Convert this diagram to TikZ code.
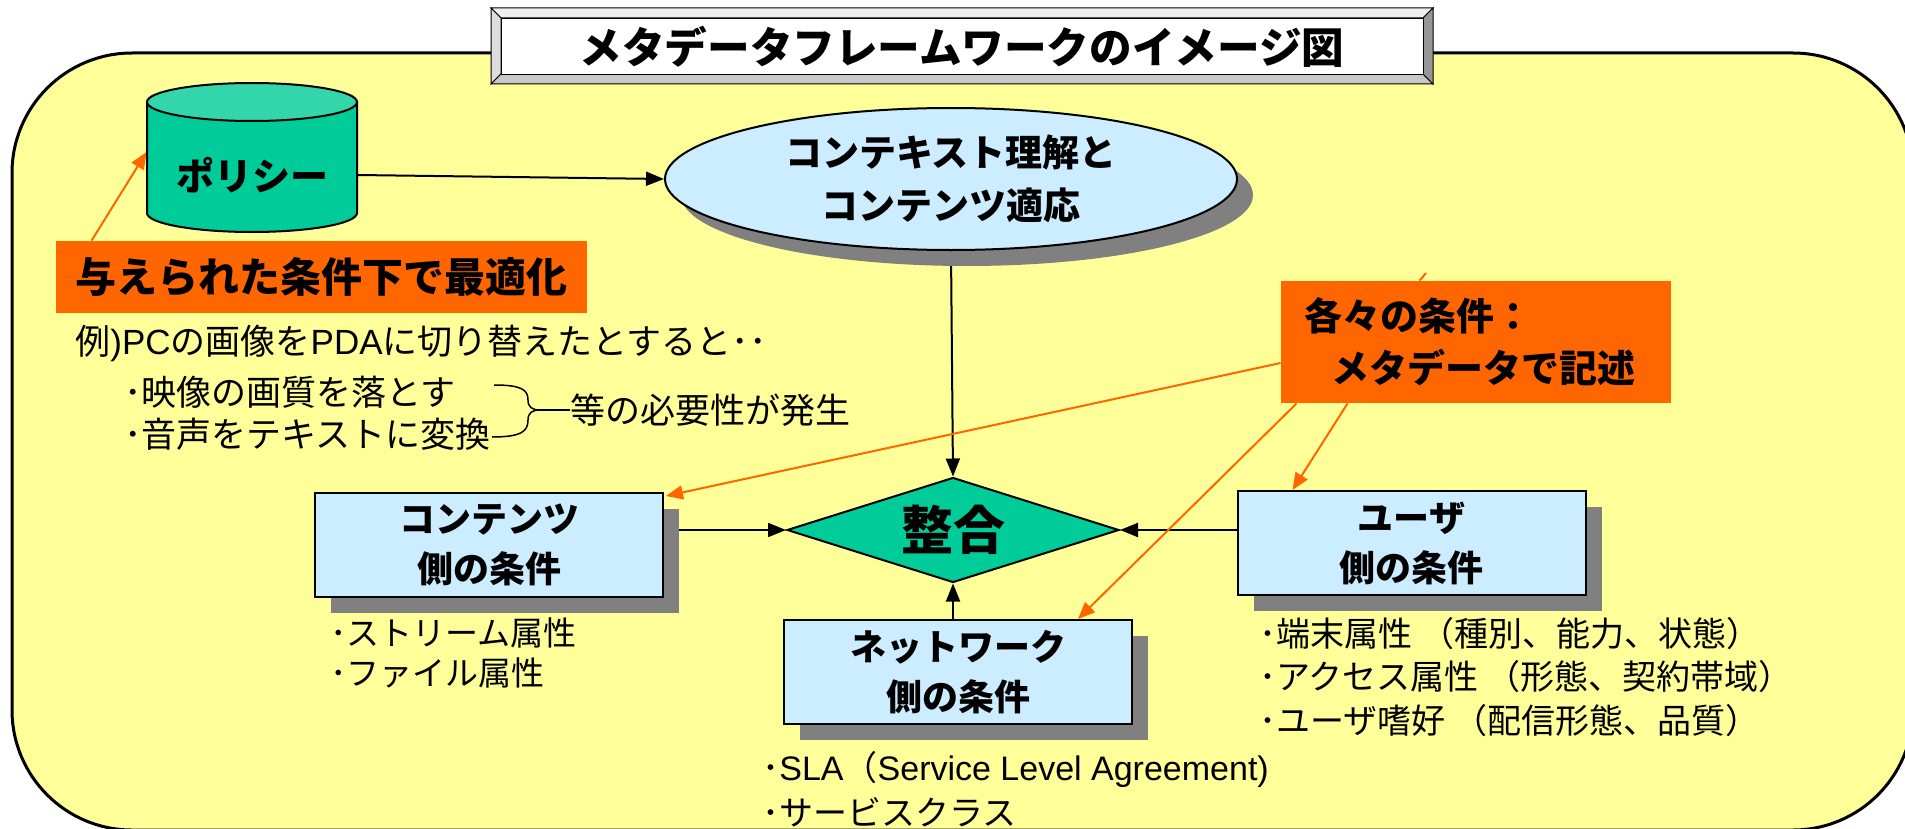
\documentclass[tikz,border=0pt]{standalone}
\usepackage{fontspec}
\setmainfont{Noto Sans CJK JP}
\newfontfamily\lat{Liberation Sans}
\usetikzlibrary{shapes.geometric,shadows,arrows.meta,calc}
\definecolor{yel}{HTML}{FFFF99}
\definecolor{org}{HTML}{FF6600}
\definecolor{lblue}{HTML}{CCECFF}
\definecolor{tealb}{HTML}{00CC99}
\definecolor{tealtop}{HTML}{33D6AA}
\definecolor{shd}{HTML}{808080}
\definecolor{bvtop}{HTML}{EEEEEE}
\definecolor{bvleft}{HTML}{DDDDDD}
\definecolor{bvbot}{HTML}{C8C8C8}
\definecolor{bvright}{HTML}{969696}
\pgfdeclarelayer{back}
\pgfdeclarelayer{edges}
\pgfsetlayers{back,edges,main}
\tikzset{
  myshadow/.style={drop shadow={shadow xshift=8pt,shadow yshift=-8pt,fill=shd,opacity=1}},
  condbox/.style={draw,line width=1pt,fill=lblue,minimum width=174pt,minimum height=52pt,inner sep=0pt,align=center,
    font=\fontsize{18pt}{25pt}\selectfont\bfseries,myshadow},
  bul/.style={anchor=west,align=left,inner sep=0pt,font=\fontsize{17pt}{21.75pt}\selectfont},
  extext/.style={anchor=west,inner sep=0pt,font=\fontsize{17.5pt}{21pt}\selectfont},
  blk/.style={draw=black,line width=1pt,-{Triangle[length=9pt,width=7pt]}},
  oarr/.style={draw=org,line width=1pt,-{Triangle[length=8.5pt,width=7pt]}},
  bevel/.style={draw=black,line width=0.5pt},
}
\begin{document}
\begin{tikzpicture}[x=0.5pt,y=-0.5pt]
\useasboundingbox (0,0) rectangle (1905,829);
\begin{pgfonlayer}{back}
\draw[line width=1.5pt,fill=yel,rounded corners=60pt] (12,53) rectangle (1913,830);
\end{pgfonlayer}

% title
\filldraw[bevel,fill=bvtop] (491,8) -- (1433,8) -- (1423,18) -- (501,18) -- cycle;
\filldraw[bevel,fill=bvleft] (491,8) -- (501,18) -- (501,74) -- (491,84) -- cycle;
\filldraw[bevel,fill=bvbot] (491,84) -- (501,74) -- (1423,74) -- (1433,84) -- cycle;
\filldraw[bevel,fill=bvright] (1433,8) -- (1423,18) -- (1423,74) -- (1433,84) -- cycle;
\node[draw,line width=0.5pt,fill=white,minimum width=461pt,minimum height=28pt,inner sep=0pt,
  font=\fontsize{21.3pt}{26pt}\selectfont\bfseries] (ttl) at (962,47) {メタデータフレームワークのイメージ図};

% policy cylinder
\filldraw[draw=black,line width=1pt,fill=tealb] (147,102) -- (147,213)
  arc[start angle=180,end angle=360,x radius=52.5pt,y radius=9.5pt] -- (357,102) -- cycle;
\filldraw[draw=black,line width=1pt,fill=tealtop] (252,102) ellipse [x radius=52.5pt,y radius=9.5pt];
\node[inner sep=0pt,minimum width=105pt,font=\fontsize{19pt}{22pt}\selectfont\bfseries] (pol) at (252,175) {ポリシー};

% context ellipse
\node[ellipse,draw,line width=1pt,fill=lblue,minimum width=286pt,minimum height=71pt,inner sep=0pt,align=center,
  font=\fontsize{18.5pt}{26.5pt}\selectfont\bfseries,myshadow] (ctx) at (951,179) {コンテキスト理解と\\コンテンツ適応};

% orange labels
\node[fill=org,minimum width=265.5pt,minimum height=36pt,inner sep=0pt,
  font=\fontsize{20.5pt}{24pt}\selectfont\bfseries] (opt) at (321.5,277) {与えられた条件下で最適化};
\node[fill=org,text width=172pt,inner xsep=11.5pt,inner ysep=0pt,minimum height=61pt,align=left,
  font=\fontsize{19pt}{26pt}\selectfont\bfseries] (ech) at (1476,342) {各々の条件：\\\hspace*{13.5pt}メタデータで記述};

% example text
\node[extext] (ex1) at (75,343) {例{\lat )}{\lat PC}の画像を{\lat PDA}に切り替えたとすると･･};
\node[extext] (ex2) at (124,392) {･映像の画質を落とす};
\node[extext] (ex3) at (124,434) {･音声をテキストに変換};
\node[extext] (need) at (570,410) {等の必要性が発生};
\draw[line width=0.75pt] (494,385) .. controls (522,385) and (528,390) .. (528,400)
  .. controls (528,407) and (532,410) .. (540,410);
\draw[line width=0.75pt] (540,410) .. controls (532,410) and (528,413) .. (528,420)
  .. controls (528,431) and (522,437) .. (492,437);
\draw[line width=0.75pt] (540,410) -- (need.west);

% diamond
\node[diamond,aspect=3.16,draw,line width=1pt,fill=tealb,minimum width=166pt,minimum height=52.5pt,inner sep=0pt,
  font=\fontsize{26pt}{30pt}\selectfont\bfseries] (dia) at (953,530) {整合};

% condition boxes
\node[condbox] (cnt) at (489,545) {コンテンツ\\側の条件};
\node[condbox] (net) at (958,672) {ネットワーク\\側の条件};
\node[condbox] (usr) at (1411.5,543) {ユーザ\\側の条件};

\node[bul,font=\fontsize{16.5pt}{20pt}\selectfont] (cb) at (330,653) {･ストリーム属性\\･ファイル属性};
\node[bul,font=\fontsize{17pt}{22.5pt}\selectfont] (nb) at (762,789) {･{\lat SLA}（{\lat Service Level Agreement)}\\･サービスクラス};
\node[bul] (ub) at (1259,677) {･端末属性 （種別、能力、状態）\\･アクセス属性 （形態、契約帯域）\\･ユーザ嗜好 （配信形態、品質）};

% connectors
\begin{pgfonlayer}{edges}
\draw[blk] (pol.east) -- (ctx.west);
\draw[blk] (ctx.south) -- (dia.north);
\draw[blk] (cnt.east |- dia.west) -- (dia.west);
\draw[blk] (usr.west |- dia.east) -- (dia.east);
\draw[blk] (dia.south |- net.north) -- (dia.south);
\draw[oarr] ($(opt.north west)+(36,0)$) -- ($(pol.west)+(0,-23)$);
\draw[oarr] ($(ech.west)+(0,21)$) -- ($(cnt.north east)+(2,4)$);
\draw[oarr] ($(ech.south west)+(16,0)$) -- ($(net.north west)+(295,0)$);
\draw[oarr] ($(ech.south west)+(67,0)$) -- ($(usr.north west)+(56,0)$);
\coordinate (stub) at (1426,273);
\draw[draw=org,line width=1pt] ($(ech.north west)+(139,0)$) -- (stub);
\end{pgfonlayer}
\end{tikzpicture}
\end{document}
